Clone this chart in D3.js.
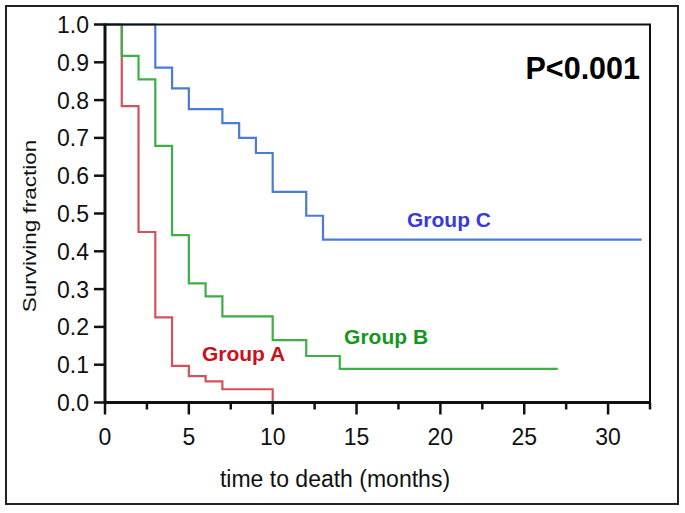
<!DOCTYPE html>
<html>
<head>
<meta charset="utf-8">
<script src="https://cdn.jsdelivr.net/npm/d3@7"></script>
<style>
  html, body { margin: 0; padding: 0; background: #fff; }
  svg { display: block; }
  text { font-family: "Liberation Sans", Arial, Helvetica, sans-serif; }
</style>
</head>
<body>
<svg id="chart" width="685" height="513"></svg>
<script>
// ---- data ----
const groupATimes = [0, 1, 2, 3, 4, 5, 6, 7, 10];
const groupASurv  = [1.0, 0.784, 0.451, 0.225, 0.097, 0.070, 0.056, 0.035, 0.0];
const groupAEnd   = 10;

const groupBTimes = [0, 1, 2, 3, 4, 5, 6, 7, 10, 12, 14];
const groupBSurv  = [1.0, 0.917, 0.855, 0.679, 0.443, 0.315, 0.281, 0.228, 0.165, 0.123, 0.089];
const groupBEnd   = 27;

const groupCTimes = [0, 3, 4, 5, 7, 8, 9, 10, 12, 13];
const groupCSurv  = [1.0, 0.886, 0.831, 0.776, 0.739, 0.700, 0.660, 0.557, 0.494, 0.431];
const groupCEnd   = 32;

const xTickValues = [0, 2.5, 5, 7.5, 10, 12.5, 15, 17.5, 20, 22.5, 25, 27.5, 30, 32.5];
const xTickLabels = ["0", "5", "10", "15", "20", "25", "30"];
const yTickValues = [0, 0.1, 0.2, 0.3, 0.4, 0.5, 0.6, 0.7, 0.8, 0.9, 1.0];

const groupNames = ["Group A", "Group B", "Group C"];
const groupLabelPos = [[5.72, 0.109], [14.2, 0.155], [17.95, 0.464]]; // label anchor in data coords (start x, baseline y)
const pValueText = "P<0.001";

(function () {
// ---- layout ----
const svg = d3.select("#chart");
const mLeft = 105, mRight = 650, mTop = 24.5, mBottom = 402.5;
const x = d3.scaleLinear().domain([0, 32.5]).range([mLeft, mRight]);
const y = d3.scaleLinear().domain([0, 1]).range([mBottom, mTop]);

// outer frame
svg.append("rect")
  .attr("x", 6).attr("y", 6).attr("width", 672).attr("height", 498)
  .attr("fill", "none").attr("stroke", "#222").attr("stroke-width", 2);

// curves
const lineColors = ["#d2515c", "#3eae45", "#4a7bd6"];
const textColors = ["#c8101e", "#16961c", "#3a3ad8"];
const series = [
  {t: groupATimes, s: groupASurv, end: groupAEnd},
  {t: groupBTimes, s: groupBSurv, end: groupBEnd},
  {t: groupCTimes, s: groupCSurv, end: groupCEnd}
];
const line = d3.line().x(d => x(d[0])).y(d => y(d[1])).curve(d3.curveStepAfter);
series.forEach((g, i) => {
  const pts = g.t.map((t, k) => [t, g.s[k]]);
  const last = pts[pts.length - 1];
  if (last[0] < g.end) pts.push([g.end, last[1]]);
  svg.append("path")
    .attr("d", line(pts))
    .attr("fill", "none")
    .attr("stroke", lineColors[i])
    .attr("stroke-width", 2.2);
});

// plot frame (top & right)
svg.append("path")
  .attr("d", `M${mLeft},${mTop}H${mRight}V${mBottom}`)
  .attr("fill", "none").attr("stroke", "#111").attr("stroke-width", 2);

// x axis
const xAxisG = svg.append("g").attr("transform", `translate(0,${mBottom})`);
xAxisG.append("line").attr("x1", mLeft).attr("x2", mRight + 1).attr("y1", 0).attr("y2", 0)
  .attr("stroke", "#111").attr("stroke-width", 3);
xAxisG.selectAll("line.tick").data(xTickValues).join("line")
  .attr("class", "tick")
  .attr("x1", d => x(d)).attr("x2", d => x(d))
  .attr("y1", 0).attr("y2", d => (d % 5 === 0 ? 12 : 7))
  .attr("stroke", "#111").attr("stroke-width", 2.5);
xAxisG.selectAll("text").data(xTickLabels).join("text")
  .attr("x", d => x(+d)).attr("y", 42)
  .attr("text-anchor", "middle")
  .attr("font-size", 23)
  .attr("fill", "#111")
  .text(d => d);

// y axis
const yAxisG = svg.append("g");
yAxisG.append("line").attr("x1", mLeft).attr("x2", mLeft).attr("y1", mTop - 1).attr("y2", mBottom + 1)
  .attr("stroke", "#111").attr("stroke-width", 3);
yAxisG.selectAll("line.tick").data(yTickValues).join("line")
  .attr("class", "tick")
  .attr("x1", mLeft - 11).attr("x2", mLeft)
  .attr("y1", d => y(d)).attr("y2", d => y(d))
  .attr("stroke", "#111").attr("stroke-width", 2.5);
yAxisG.selectAll("text").data(yTickValues).join("text")
  .attr("x", 89).attr("y", d => y(d) + 8.5)
  .attr("text-anchor", "end")
  .attr("font-size", 23)
  .attr("fill", "#111")
  .text(d => d3.format(".1f")(d));

// axis titles
svg.append("text")
  .attr("x", 335).attr("y", 487)
  .attr("text-anchor", "middle")
  .attr("font-size", 23)
  .attr("fill", "#111")
  .text("time to death (months)");
svg.append("text")
  .attr("transform", "translate(36,226) rotate(-90) scale(1,0.8)")
  .attr("text-anchor", "middle")
  .attr("font-size", 22.5)
  .attr("fill", "#111")
  .text("Surviving fraction");

// group labels
groupNames.forEach((name, i) => {
  svg.append("text")
    .attr("x", x(groupLabelPos[i][0]) + 1)
    .attr("y", y(groupLabelPos[i][1]))
    .attr("font-size", 21)
    .attr("font-weight", "bold")
    .attr("fill", textColors[i])
    .text(name);
});

// p-value
svg.append("text")
  .attr("x", 640).attr("y", 79)
  .attr("text-anchor", "end")
  .attr("font-size", 30.5)
  .attr("font-weight", "bold")
  .attr("fill", "#000")
  .text(pValueText);
})();
</script>
</body>
</html>
